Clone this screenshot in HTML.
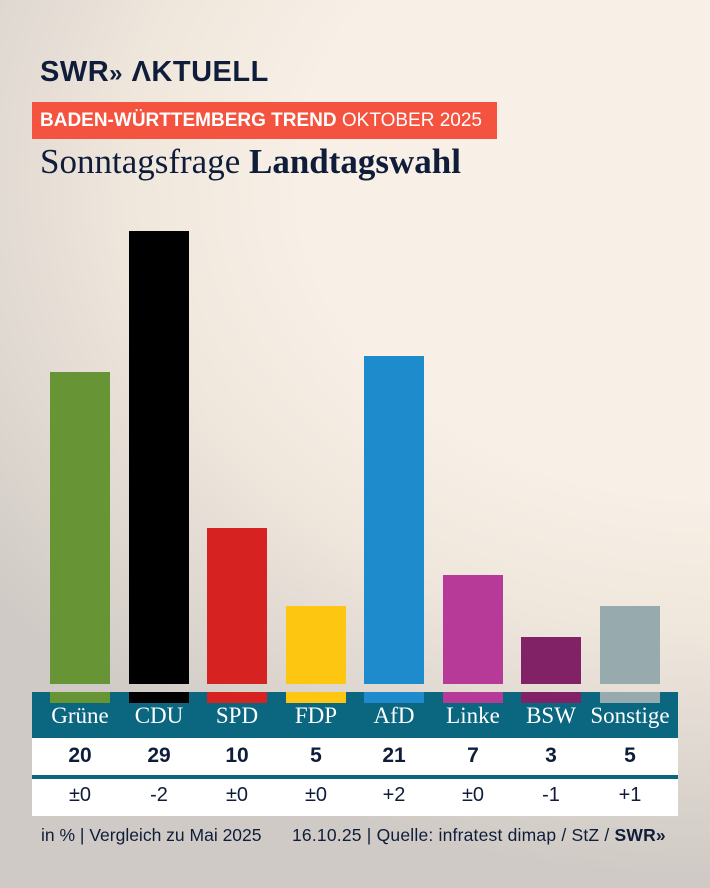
<!DOCTYPE html>
<html><head><meta charset="utf-8"><style>
body{margin:0;width:710px;height:888px;overflow:hidden;position:relative;font-family:"Liberation Sans",sans-serif;
background:radial-gradient(ellipse 900px 700px at 100% 20%, #f8f0e6 45%, #efe6dc 65%, #cfcac5 100%);}
.a{position:absolute;white-space:nowrap}
.bar{position:absolute;width:60px}
.lab{position:absolute;top:703px;width:78px;text-align:center;color:#fff;font-family:"Liberation Serif",serif;font-size:23px}
.v{position:absolute;top:744px;width:78px;text-align:center;color:#0f1d3a;font-weight:bold;font-size:21px}
.d{position:absolute;top:784px;width:78px;text-align:center;color:#0f1d3a;font-size:20px}
</style></head><body>
<div class="a" style="left:40px;top:56px;font-size:29px;font-weight:bold;color:#0f1d3a;letter-spacing:0.5px">SWR<span style="font-size:24px">»</span> ΛKTUELL</div>
<div class="a" style="left:32px;top:102px;width:465px;height:37px;background:#f4533f;color:#fff;font-size:19px;line-height:37px;"><span style="margin-left:8px;font-weight:bold">BADEN-WÜRTTEMBERG TREND</span> OKTOBER 2025</div>
<div class="a" style="left:40px;top:142px;font-family:'Liberation Serif',serif;font-size:35px;color:#0f1d3a">Sonntagsfrage <b>Landtagswahl</b></div>
<div class="a" style="left:32px;top:692px;width:646px;height:46px;background:#0b6680"></div>
<div class="a" style="left:32px;top:738px;width:646px;height:78px;background:#fff"></div>
<div class="a" style="left:32px;top:775px;width:646px;height:4px;background:#0b6680"></div>
<div class="bar" style="left:50px;top:372px;height:312px;background:#679435"></div>
<div class="bar" style="left:129px;top:231px;height:453px;background:#000"></div>
<div class="bar" style="left:207px;top:528px;height:156px;background:#d62221"></div>
<div class="bar" style="left:286px;top:606px;height:78px;background:#fdc611"></div>
<div class="bar" style="left:364px;top:356px;height:328px;background:#1e8ccc"></div>
<div class="bar" style="left:443px;top:575px;height:109px;background:#b83a98"></div>
<div class="bar" style="left:521px;top:637px;height:47px;background:#812266"></div>
<div class="bar" style="left:600px;top:606px;height:78px;background:#97aaad"></div>
<div class="bar" style="left:50px;top:692px;height:11px;background:#679435"></div>
<div class="bar" style="left:129px;top:692px;height:11px;background:#000"></div>
<div class="bar" style="left:207px;top:692px;height:11px;background:#d62221"></div>
<div class="bar" style="left:286px;top:692px;height:11px;background:#fdc611"></div>
<div class="bar" style="left:364px;top:692px;height:11px;background:#1e8ccc"></div>
<div class="bar" style="left:443px;top:692px;height:11px;background:#b83a98"></div>
<div class="bar" style="left:521px;top:692px;height:11px;background:#812266"></div>
<div class="bar" style="left:600px;top:692px;height:11px;background:#97aaad"></div>
<div class="lab" style="left:41px">Grüne</div><div class="lab" style="left:120px">CDU</div><div class="lab" style="left:198px">SPD</div><div class="lab" style="left:277px">FDP</div><div class="lab" style="left:355px">AfD</div><div class="lab" style="left:434px">Linke</div><div class="lab" style="left:512px">BSW</div><div class="lab" style="left:586px;width:88px">Sonstige</div>
<div class="v" style="left:41px">20</div><div class="v" style="left:120px">29</div><div class="v" style="left:198px">10</div><div class="v" style="left:277px">5</div><div class="v" style="left:355px">21</div><div class="v" style="left:434px">7</div><div class="v" style="left:512px">3</div><div class="v" style="left:591px">5</div>
<div class="d" style="left:41px">±0</div><div class="d" style="left:120px">-2</div><div class="d" style="left:198px">±0</div><div class="d" style="left:277px">±0</div><div class="d" style="left:355px">+2</div><div class="d" style="left:434px">±0</div><div class="d" style="left:512px">-1</div><div class="d" style="left:591px">+1</div>
<div class="a" style="left:41px;top:825px;font-size:17.5px;color:#0f1d3a">in % | Vergleich zu Mai 2025</div>
<div class="a" style="left:292px;top:825px;font-size:17.5px;letter-spacing:0.2px;color:#0f1d3a">16.10.25 | Quelle: infratest dimap / StZ / <b>SWR»</b></div>
</body></html>
